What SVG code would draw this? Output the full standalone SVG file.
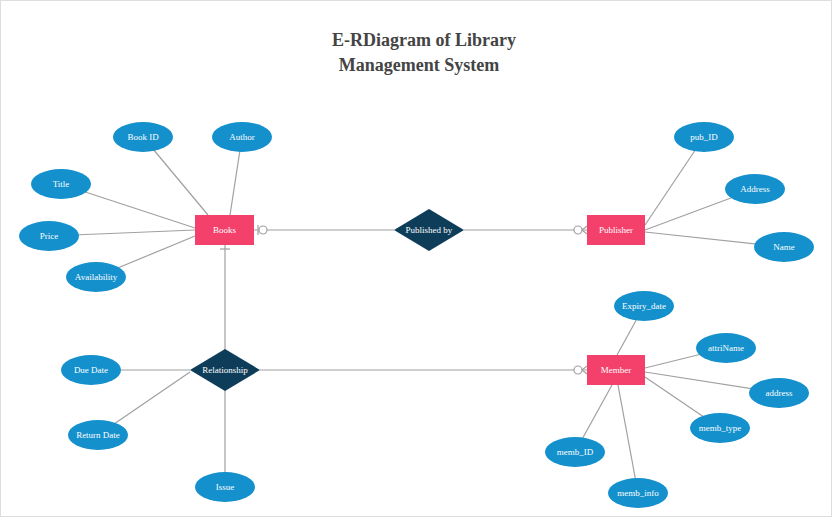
<svg xmlns="http://www.w3.org/2000/svg" width="832" height="517" viewBox="0 0 832 517">
<style>
.e{fill:#1490cc}.r{fill:#f4416c}.d{fill:#0e3d5a}
.t{font-family:"Liberation Serif",serif;font-size:9px;fill:#fff;text-anchor:middle;dominant-baseline:central}
.l{stroke:#a0a0a0;stroke-width:1.2;fill:none}
.h{font-family:"Liberation Serif",serif;font-size:18px;font-weight:bold;fill:#444;text-anchor:middle}
</style>
<rect x="0.5" y="0.5" width="831" height="516" fill="#fff" stroke="#ddd"/>
<text class="h" x="424" y="46">E-RDiagram of Library</text>
<text class="h" x="419" y="71">Management  System</text>
<g id="connectors" class="l">
<line x1="143" y1="137" x2="208" y2="215"/><line x1="242" y1="137" x2="230" y2="215"/>
<line x1="61" y1="184" x2="195" y2="228"/><line x1="49" y1="236" x2="195" y2="230"/>
<line x1="96" y1="277" x2="195" y2="236"/>
<line x1="254" y1="230" x2="394" y2="230"/><line x1="464" y1="230" x2="587" y2="230"/>
<line x1="258" y1="225" x2="258" y2="235"/><circle cx="263" cy="230" r="4" fill="#fff"/>
<circle cx="578" cy="230" r="4" fill="#fff"/><path d="M582 230 L587 226 M582 230 L587 234"/>
<line x1="225" y1="245" x2="225" y2="350"/><line x1="220" y1="249" x2="230" y2="249"/>
<line x1="704" y1="137" x2="645" y2="225"/><line x1="755" y1="189" x2="645" y2="230"/>
<line x1="784" y1="247" x2="645" y2="232"/>
<line x1="91" y1="370" x2="190" y2="370"/><line x1="98" y1="435" x2="190" y2="372"/>
<line x1="225" y1="390" x2="225" y2="487"/>
<line x1="260" y1="370" x2="587" y2="370"/>
<circle cx="578" cy="370" r="4" fill="#fff"/><path d="M582 370 L587 366 M582 370 L587 374"/>
<line x1="644" y1="306" x2="617" y2="355"/><line x1="726" y1="348" x2="645" y2="368"/>
<line x1="779" y1="393" x2="645" y2="372"/><line x1="720" y1="428" x2="645" y2="377"/>
<line x1="575" y1="452" x2="612" y2="385"/><line x1="638" y1="493" x2="618" y2="385"/>
</g>
<g id="books"><rect class="r" x="195" y="215" width="59" height="30"/><text class="t" x="224.5" y="230">Books</text></g>
<g id="publisher"><rect class="r" x="587" y="215" width="58" height="30"/><text class="t" x="616" y="230">Publisher</text></g>
<g id="member"><rect class="r" x="587" y="355" width="58" height="30"/><text class="t" x="616" y="370">Member</text></g>
<g id="publishedby"><polygon class="d" points="394,230 429,209 464,230 429,251"/><text class="t" x="429" y="230">Published  by</text></g>
<g id="relationship"><polygon class="d" points="190,370 225,349 260,370 225,391"/><text class="t" x="225" y="370">Relationship</text></g>
<g id="bookid"><ellipse class="e" cx="143" cy="137" rx="30" ry="15"/><text class="t" x="143" y="137">Book ID</text></g>
<g id="author"><ellipse class="e" cx="242" cy="137" rx="30" ry="15"/><text class="t" x="242" y="137">Author</text></g>
<g id="title"><ellipse class="e" cx="61" cy="184" rx="30" ry="15"/><text class="t" x="61" y="184">Title</text></g>
<g id="price"><ellipse class="e" cx="49" cy="236" rx="30" ry="15"/><text class="t" x="49" y="236">Price</text></g>
<g id="availability"><ellipse class="e" cx="96" cy="277" rx="30" ry="15"/><text class="t" x="96" y="277">Availability</text></g>
<g id="pubid"><ellipse class="e" cx="704" cy="137" rx="30" ry="15"/><text class="t" x="704" y="137">pub_ID</text></g>
<g id="address1"><ellipse class="e" cx="755" cy="189" rx="30" ry="15"/><text class="t" x="755" y="189">Address</text></g>
<g id="name"><ellipse class="e" cx="784" cy="247" rx="30" ry="15"/><text class="t" x="784" y="247">Name</text></g>
<g id="duedate"><ellipse class="e" cx="91" cy="370" rx="30" ry="15"/><text class="t" x="91" y="370">Due Date</text></g>
<g id="returndate"><ellipse class="e" cx="98" cy="435" rx="30" ry="15"/><text class="t" x="98" y="435">Return  Date</text></g>
<g id="issue"><ellipse class="e" cx="225" cy="487" rx="30" ry="15"/><text class="t" x="225" y="487">Issue</text></g>
<g id="expiry"><ellipse class="e" cx="644" cy="306" rx="30" ry="15"/><text class="t" x="644" y="306">Expiry_date</text></g>
<g id="attriname"><ellipse class="e" cx="726" cy="348" rx="30" ry="15"/><text class="t" x="726" y="348">attriName</text></g>
<g id="address2"><ellipse class="e" cx="779" cy="393" rx="30" ry="15"/><text class="t" x="779" y="393">address</text></g>
<g id="membtype"><ellipse class="e" cx="720" cy="428" rx="30" ry="15"/><text class="t" x="720" y="428">memb_type</text></g>
<g id="membid"><ellipse class="e" cx="575" cy="452" rx="30" ry="15"/><text class="t" x="575" y="452">memb_ID</text></g>
<g id="membinfo"><ellipse class="e" cx="638" cy="493" rx="30" ry="15"/><text class="t" x="638" y="493">memb_info</text></g>
</svg>
